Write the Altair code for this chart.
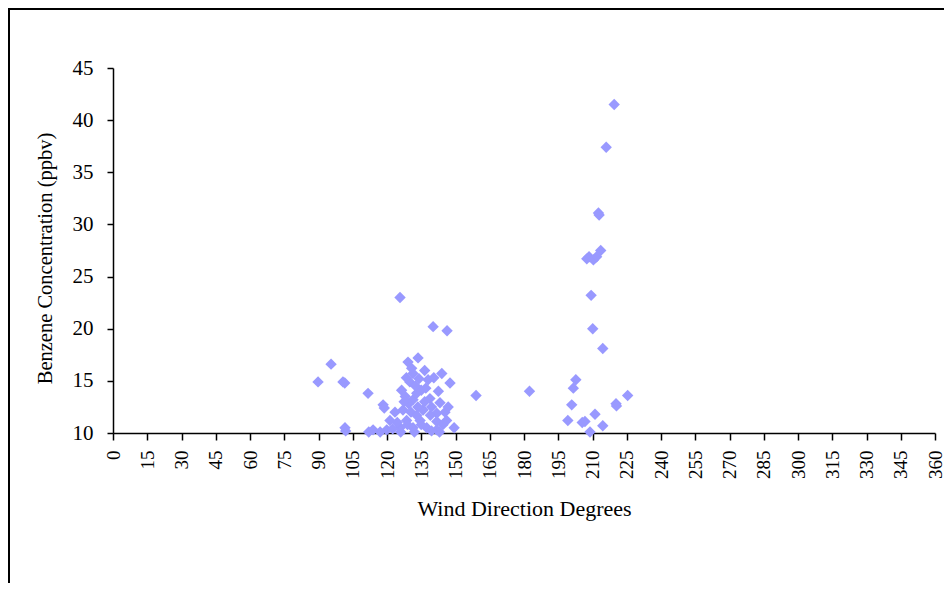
import altair as alt
import pandas as pd

wind = [89.8, 95.5, 100.7, 101.5, 101.6, 101.9, 111.7, 112.0, 117.0, 118.3,
        118.8, 119.9, 125.7, 140.2, 146.3, 159.0, 149.4, 129.2, 133.6, 144.0,
        147.6, 138.0, 131.4, 130.0, 126.4, 135.0, 131.4, 138.8, 143.2, 145.4,
        141.8, 135.8, 127.0, 123.5, 121.3, 128.6, 134.5, 141.8, 146.1, 125.7,
        131.4, 137.4, 141.8, 113.9, 133.0, 129.5, 136.5, 132.0, 143.0, 139.0,
        128.0, 134.0, 127.5, 130.5, 133.5, 136.5, 139.5, 137.0, 132.5, 129.0,
        135.0, 139.5, 144.5, 146.8, 142.5, 140.5, 128.5, 130.8, 124.5, 122.5,
        126.0, 133.0,
        219.5, 216.0, 212.6, 212.9, 213.6, 207.5, 208.5, 210.4, 211.8, 209.4,
        210.1, 214.5, 202.7, 201.6, 182.4, 225.4, 220.3, 200.9, 199.2, 211.1,
        206.7, 205.5, 214.5, 208.9, 220.5]
benzene = [14.9, 16.6, 14.9, 14.8, 10.5, 10.2, 13.8, 10.1, 10.1, 12.7,
           12.4, 10.3, 23.0, 20.2, 19.8, 13.6, 10.5, 16.8, 17.2, 15.7,
           14.8, 15.1, 15.7, 14.9, 14.1, 14.1, 13.2, 13.3, 12.9, 12.0,
           11.9, 12.2, 12.2, 12.0, 11.2, 11.2, 11.2, 11.1, 11.2, 10.5,
           10.5, 10.5, 10.3, 10.3, 13.8, 12.8, 16.0, 10.1, 10.1, 11.7,
           13.5, 15.2, 13.0, 12.0, 12.5, 13.0, 12.5, 14.3, 14.5, 10.8,
           10.8, 10.2, 10.8, 12.5, 14.0, 15.3, 15.3, 16.2, 11.0, 10.4,
           10.1, 11.7,
           41.5, 37.4, 31.1, 30.9, 27.5, 26.7, 26.9, 26.6, 26.9, 23.2,
           20.0, 18.1, 15.1, 14.3, 14.0, 13.6, 12.8, 12.7, 11.2, 11.8,
           11.1, 11.0, 10.7, 10.1, 12.6]

x_ticks = list(range(0, 361, 15))
y_ticks = list(range(10, 46, 5))

df = pd.DataFrame({"wind": wind, "benzene": benzene})

FONT = "Liberation Serif"

points = alt.Chart(df).mark_point(
    shape="diamond", filled=True, color="#9999FF", opacity=1, size=130
).encode(
    x=alt.X("wind:Q", scale=alt.Scale(domain=[0, 360], nice=False),
            axis=alt.Axis(values=x_ticks, title="Wind Direction Degrees",
                          labelAngle=-90, labelFontSize=19, titleFontSize=22,
                          labelPadding=10, titlePadding=20, tickSize=7,
                          grid=False, labelFlush=False, labelOverlap=False)),
    y=alt.Y("benzene:Q", scale=alt.Scale(domain=[10, 45], nice=False),
            axis=alt.Axis(values=y_ticks, title="Benzene Concentration (ppbv)",
                          labelFontSize=21, titleFontSize=20.5, tickSize=6,
                          labelPadding=14, titlePadding=17, titleY=190,
                          grid=False)),
)

frame_df = pd.DataFrame({"k": [0]})
left_border = alt.Chart(frame_df).mark_rule(color="black", strokeWidth=2).encode(
    x=alt.value(-104), y=alt.value(-59), y2=alt.value(600)
)
top_border = alt.Chart(frame_df).mark_rule(color="black", strokeWidth=2).encode(
    x=alt.value(-105), x2=alt.value(900), y=alt.value(-59)
)

chart = alt.layer(points, left_border, top_border).properties(
    width=822, height=365,
    autosize=alt.AutoSizeParams(type="none"),
    padding={"left": 105, "top": 60, "right": 9, "bottom": 150},
).configure_view(stroke=None).configure_axis(
    labelFont=FONT, titleFont=FONT, labelColor="black", titleColor="black",
    domainColor="black", tickColor="black", domainWidth=1.5, tickWidth=1.5,
    titleFontWeight="normal",
)

chart.save("out.html", embed_options={"renderer": "svg", "actions": False})
